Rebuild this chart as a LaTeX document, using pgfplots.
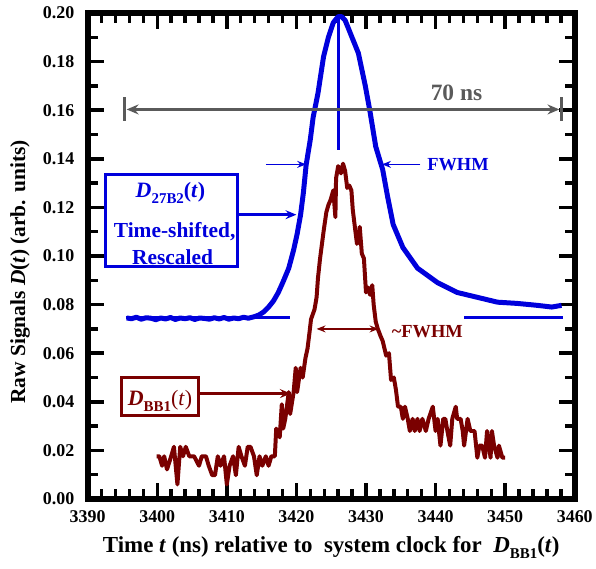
\documentclass[border=0pt]{standalone}
\usepackage{fontspec}
\setmainfont{Liberation Serif}
\usepackage{pgfplots}
\pgfplotsset{compat=1.18}
\usetikzlibrary{arrows.meta}
\definecolor{myblue}{RGB}{0,0,220}
\definecolor{myred}{RGB}{122,0,0}
\definecolor{mygray}{RGB}{90,90,90}
\newcommand{\fs}[1]{\fontsize{#1}{#1}\selectfont\bfseries}

\begin{document}
\begin{tikzpicture}
\path (0pt,0pt) rectangle (596pt,571pt);
\begin{axis}[
  at={(88pt,70pt)}, anchor=south west, scale only axis,
  width=489pt, height=488pt,
  xmin=3390, xmax=3460, ymin=0, ymax=0.2,
  xtick={3390,3400,3410,3420,3430,3440,3450,3460},
  ytick={0,0.02,0.04,0.06,0.08,0.1,0.12,0.14,0.16,0.18,0.2},
  minor x tick num=4, minor y tick num=1,
  major tick length=16pt, minor tick length=10pt,
  tick align=inside,
  every tick/.style={black, line width=3.5pt},
  line width=6pt,
  scaled y ticks=false,
  xticklabel style={font=\fs{18}, yshift=-5pt},
  yticklabel style={font=\fs{18}, xshift=-7pt},
  xticklabel={\pgfmathprintnumber[assume math mode=true,1000 sep={}]{\tick}},
  yticklabel={\pgfmathprintnumber[assume math mode=true,fixed,fixed zerofill,precision=2]{\tick}},
  xlabel={Time \textit{t} (ns) relative to\ \ system clock for\ \ \textit{D}\raisebox{-0.6ex}{\fs{15}BB1}(\textit{t})},
  ylabel={Raw Signals \textit{D}(\textit{t}) (arb. units)},
  xlabel style={font=\fs{23}, yshift=-4pt},
  ylabel style={font=\fs{21.5}, at={(axis description cs:-0.139,0.467)}, anchor=center},
]
% frame ticks drawn explicitly as well
\pgfplotsinvokeforeach{3400,3410,3420,3430,3440,3450}{
  \draw[black, line width=3.5pt] (axis cs:#1,0) -- (axis cs:#1,0.00656);
  \draw[black, line width=3.5pt] (axis cs:#1,0.2) -- (axis cs:#1,0.19344);
}
\pgfplotsinvokeforeach{3392,3394,3396,3398,3402,3404,3406,3408,3412,3414,3416,3418,3422,3424,3426,3428,3432,3434,3436,3438,3442,3444,3446,3448,3452,3454,3456,3458}{
  \draw[black, line width=3.5pt] (axis cs:#1,0) -- (axis cs:#1,0.0041);
  \draw[black, line width=3.5pt] (axis cs:#1,0.2) -- (axis cs:#1,0.1959);
}
\pgfplotsinvokeforeach{0.02,0.04,0.06,0.08,0.10,0.12,0.14,0.16,0.18}{
  \draw[black, line width=3.5pt] (axis cs:3390,#1) -- (axis cs:3392.29,#1);
  \draw[black, line width=3.5pt] (axis cs:3460,#1) -- (axis cs:3457.71,#1);
}
\pgfplotsinvokeforeach{0.01,0.03,0.05,0.07,0.09,0.11,0.13,0.15,0.17,0.19}{
  \draw[black, line width=3.5pt] (axis cs:3390,#1) -- (axis cs:3391.43,#1);
  \draw[black, line width=3.5pt] (axis cs:3460,#1) -- (axis cs:3458.57,#1);
}

% blue reference lines
\addplot[myblue, line width=3pt] coordinates {(3395.5,0.0746) (3419.1,0.0746)};
\addplot[myblue, line width=3pt] coordinates {(3444.1,0.0746) (3458.3,0.0746)};
\addplot[myblue, line width=3pt] coordinates {(3426.1,0.1985) (3426.1,0.1435)};

% D27B2 (blue)
\addplot[myblue, line width=5pt, line join=round] coordinates {
(3395.6,0.0745) (3396.3,0.0742) (3397.0,0.0748) (3397.7,0.0740) (3398.4,0.0746)
(3399.1,0.0744) (3399.8,0.0738) (3400.5,0.0745) (3401.2,0.0741) (3401.9,0.0747)
(3402.6,0.0739) (3403.3,0.0745) (3404.0,0.0742) (3404.7,0.0746) (3405.4,0.0739)
(3406.1,0.0745) (3406.8,0.0743) (3407.5,0.0740) (3408.2,0.0746) (3408.9,0.0741)
(3409.6,0.0747) (3410.3,0.0740) (3411.0,0.0745) (3411.7,0.0742) (3412.4,0.0748)
(3413.1,0.0744) (3413.9,0.0750) (3414.6,0.0757) (3415.3,0.0770) (3416.0,0.0790)
(3416.7,0.0815) (3417.4,0.0850) (3418.1,0.0895) (3418.9,0.0950) (3419.6,0.1025)
(3420.1,0.1090) (3420.6,0.1170) (3421.0,0.1260) (3421.4,0.1375) (3422.0,0.1480)
(3422.4,0.1570) (3423.1,0.1670) (3423.9,0.1820) (3424.6,0.1900) (3425.3,0.1960)
(3426.0,0.1985) (3426.5,0.1985) (3427.0,0.1970) (3427.7,0.1920) (3428.9,0.1835)
(3429.9,0.1700) (3430.6,0.1590) (3431.4,0.1450) (3432.4,0.1355) (3433.1,0.1245)
(3433.9,0.1130) (3435.3,0.1035) (3437.4,0.0950) (3440.3,0.0890) (3443.1,0.0850)
(3446.0,0.0830) (3448.9,0.0810) (3451.7,0.0805) (3454.6,0.0797) (3456.7,0.0790)
(3458.1,0.0797)
};

% DBB1 (dark red)
\addplot[myred, line width=4pt, line join=round] coordinates {
(3399.9,0.0176) (3400.3,0.0176) (3400.7,0.0137) (3401.0,0.0176) (3401.4,0.0122)
(3402.0,0.0176) (3402.4,0.0215) (3402.9,0.0060) (3403.3,0.0215) (3403.7,0.0176)
(3404.1,0.0215) (3404.6,0.0176) (3405.3,0.0176) (3406.0,0.0137) (3406.4,0.0176)
(3407.0,0.0176) (3407.4,0.0137) (3407.9,0.0098) (3408.3,0.0098) (3408.7,0.0176)
(3409.1,0.0137) (3409.6,0.0176) (3410.0,0.0060) (3410.4,0.0137) (3410.9,0.0176)
(3411.3,0.0098) (3411.7,0.0215) (3412.1,0.0176) (3412.6,0.0137) (3413.0,0.0215)
(3413.4,0.0215) (3413.9,0.0176) (3414.3,0.0098) (3414.7,0.0176) (3415.1,0.0137)
(3415.6,0.0176) (3416.0,0.0137) (3416.4,0.0176) (3416.9,0.0176) (3417.1,0.0290)
(3417.6,0.0254) (3417.9,0.0390) (3418.1,0.0290) (3418.4,0.0330) (3418.9,0.0440)
(3419.1,0.0350) (3419.6,0.0440) (3419.9,0.0540) (3420.1,0.0440) (3420.6,0.0540)
(3420.9,0.0500) (3421.3,0.0580) (3421.6,0.0620) (3421.9,0.0690) (3422.1,0.0740)
(3422.6,0.0780) (3422.9,0.0830) (3423.1,0.0910) (3423.4,0.0990) (3423.9,0.1100)
(3424.3,0.1180) (3424.6,0.1210) (3424.9,0.1230) (3425.3,0.1270) (3425.6,0.1160)
(3425.7,0.1320) (3426.0,0.1370) (3426.4,0.1340) (3426.7,0.1380) (3427.0,0.1350)
(3427.3,0.1280) (3427.6,0.1290) (3427.9,0.1270) (3428.1,0.1190) (3428.4,0.1120)
(3428.7,0.1050) (3429.0,0.1070) (3429.1,0.1120) (3429.4,0.1010) (3429.7,0.0990)
(3430.0,0.0850) (3430.3,0.0870) (3430.6,0.0840) (3430.9,0.0880) (3431.1,0.0800)
(3431.4,0.0730) (3431.7,0.0700) (3432.1,0.0670) (3432.4,0.0650) (3432.9,0.0590)
(3433.3,0.0600) (3433.6,0.0490) (3434.0,0.0500) (3434.3,0.0450) (3434.6,0.0380)
(3435.0,0.0380) (3435.3,0.0330) (3435.6,0.0380) (3436.0,0.0330) (3436.3,0.0280)
(3436.7,0.0330) (3437.0,0.0280) (3437.4,0.0330) (3437.7,0.0280) (3438.1,0.0330)
(3438.6,0.0280) (3439.0,0.0330) (3439.6,0.0380) (3440.0,0.0280) (3440.3,0.0330)
(3440.7,0.0220) (3441.1,0.0330) (3441.4,0.0330) (3441.7,0.0280) (3442.1,0.0220)
(3442.4,0.0330) (3442.9,0.0380) (3443.1,0.0330) (3443.6,0.0330) (3443.9,0.0280)
(3444.1,0.0220) (3444.6,0.0330) (3445.0,0.0280) (3445.3,0.0280) (3445.6,0.0280)
(3446.0,0.0170) (3446.3,0.0220) (3446.7,0.0220) (3447.1,0.0170) (3447.4,0.0280)
(3447.9,0.0170) (3448.1,0.0280) (3448.4,0.0220) (3448.9,0.0170) (3449.1,0.0220)
(3449.6,0.0170) (3450.0,0.0170)
};

% 70 ns gray arrow
\draw[mygray, line width=3pt] (axis cs:3395.3,0.1556) -- (axis cs:3395.3,0.1656);
\draw[mygray, line width=3pt] (axis cs:3458.1,0.1556) -- (axis cs:3458.1,0.1656);
\draw[mygray, line width=3pt, {Stealth[length=12pt,width=10pt,inset=4pt]}-{Stealth[length=12pt,width=10pt,inset=4pt]}] (axis cs:3395.6,0.1603) -- (axis cs:3457.8,0.1603);
\node[mygray, font=\fs{23.5}] at (axis cs:3443,0.1670) {70 ns};

% blue annotations
\draw[myblue, line width=1.5pt, -{Stealth[length=9pt,width=7pt,inset=3pt]}] (axis cs:3415.6,0.1377) -- (axis cs:3421.4,0.1377);
\draw[myblue, line width=1.5pt, -{Stealth[length=9pt,width=7pt,inset=3pt]}] (axis cs:3437.8,0.1377) -- (axis cs:3432.3,0.1377);
\node[myblue, font=\fs{18.5}, anchor=west] at (axis cs:3437.9,0.1377) {FWHM};
\draw[myblue, line width=3pt] (axis cs:3392.6,0.1336) rectangle (axis cs:3411.6,0.0955);
\draw[myblue, line width=2.5pt, -{Stealth[length=11pt,width=9pt,inset=4pt]}] (axis cs:3411.6,0.1170) -- (axis cs:3420.0,0.1170);
\node[myblue, font=\fs{22}, anchor=base] at (axis cs:3401.9,0.1242) {\textit{D}\raisebox{-0.6ex}{\fs{15}27B2}(\textit{t})};
\node[myblue, font=\fs{21.5}, anchor=base] at (axis cs:3402.5,0.1078) {Time-shifted,};
\node[myblue, font=\fs{21.5}, anchor=base] at (axis cs:3402.2,0.0967) {Rescaled};

% red annotations
\draw[myred, line width=1.5pt, {Stealth[length=9pt,width=7pt,inset=3pt]}-{Stealth[length=9pt,width=7pt,inset=3pt]}] (axis cs:3422.9,0.0700) -- (axis cs:3431.8,0.0700);
\node[myred, font=\fs{18.5}, anchor=west] at (axis cs:3432.8,0.0690) {\textasciitilde FWHM};
\draw[myred, line width=3pt] (axis cs:3394.9,0.0500) rectangle (axis cs:3405.9,0.0344);
\draw[myred, line width=2.5pt, -{Stealth[length=11pt,width=9pt,inset=4pt]}] (axis cs:3405.9,0.0434) -- (axis cs:3419.2,0.0434);
\node[myred, font=\fs{22}, anchor=base] at (axis cs:3400.4,0.0385) {\textit{D}\raisebox{-0.6ex}{\fs{15}BB1}{\mdseries(\textit{t})}};
\end{axis}
\end{tikzpicture}
\end{document}
